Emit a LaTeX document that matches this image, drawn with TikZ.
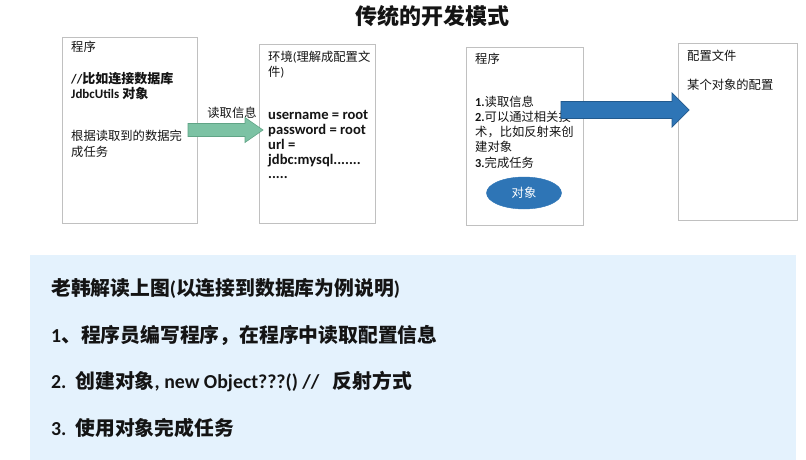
\documentclass[tikz,border=0pt]{standalone}
\usepackage{fontspec}
\usetikzlibrary{shapes.geometric}
\setmainfont{Carlito}
\newfontfamily\cjk{Noto Sans CJK SC}
\newcommand\zh[1]{{\cjk #1}}
\definecolor{boxgray}{RGB}{192,192,192}
\definecolor{panelblue}{RGB}{228,242,253}
\definecolor{greenfill}{RGB}{124,194,164}
\definecolor{greenline}{RGB}{96,164,134}
\definecolor{bluefill}{RGB}{46,117,182}
\definecolor{blueline}{RGB}{34,90,142}
\definecolor{txt}{RGB}{20,20,20}
\begin{document}
\begin{tikzpicture}[x=1pt,y=-1pt,
  box/.style={draw=boxgray, line width=0.9pt, fill=white, inner sep=0, outer sep=0, anchor=north west},
  bt/.style={anchor=west, inner sep=0, text=txt, font=\fontsize{12.3}{14}\selectfont},
  btb/.style={bt, font=\fontsize{13}{14}\selectfont\bfseries},
  btc/.style={anchor=base west, inner sep=0, text=txt, font=\fontsize{14.6}{16}\selectfont\bfseries},
  big/.style={anchor=west, inner sep=0, text=txt, font=\fontsize{19.8}{22}\selectfont\bfseries}
]
\useasboundingbox (0,0) rectangle (806,460);

% title
\node[inner sep=0, text=txt, font=\fontsize{22}{24}\selectfont\bfseries] (title) at (432,16) {\zh{传统的开发模式}};

% boxes
\node[box, minimum width=135, minimum height=186] (b1) at (62,37) {};
\node[box, minimum width=116, minimum height=179] (b2) at (259,44) {};
\node[box, minimum width=117, minimum height=178] (b3) at (466,47) {};
\node[box, minimum width=119, minimum height=177] (b4) at (678,43) {};

% box 1 text
\node[bt] (b1t1) at (71,47) {\zh{程序}};
\node[btb] (b1t2) at (71,79) {//\zh{\bfseries 比如连接数据库}};
\node[btb] (b1t3) at (71,94) {JdbcUtils \zh{\bfseries 对象}};
\node[bt] (b1t4) at (71,136) {\zh{根据读取到的数据完}};
\node[bt] (b1t5) at (71,152) {\zh{成任务}};

% box 2 text
\node[bt] (b2t1) at (268,57) {\zh{环境}(\zh{理解成配置文}};
\node[bt] (b2t2) at (268,72) {\zh{件})};
\node[btc] (b2t3) at (268,119.5) {username = root};
\node[btc] (b2t4) at (268,134.5) {password = root};
\node[btc] (b2t5) at (268,149.5) {url =};
\node[btc] (b2t6) at (268,164) {jdbc:mysql.......};
\node[btc] (b2t7) at (268,178) {.....};

% box 3 text
\node[bt] (b3t1) at (475,59) {\zh{程序}};
\node[bt] (b3t2) at (475,102) {\textbf{1.}\zh{读取信息}};
\node[bt] (b3t3) at (475,117) {\textbf{2.}\zh{可以通过相关技}};
\node[bt] (b3t4) at (475,132) {\zh{术，比如反射来创}};
\node[bt] (b3t5) at (475,147) {\zh{建对象}};
\node[bt] (b3t6) at (475,163) {\textbf{3.}\zh{完成任务}};
\node[ellipse, fill=bluefill, draw=bluefill, minimum width=75, minimum height=32, inner sep=0, text=white, font=\fontsize{12.3}{14}\selectfont] (obj) at (524,193) {\zh{对象}};

% box 4 text
\node[bt] (b4t1) at (687,56) {\zh{配置文件}};
\node[bt] (b4t2) at (687,85) {\zh{某个对象的配置}};

% green arrow
\node[inner sep=0, text=txt, font=\fontsize{12.3}{14}\selectfont] (lbl) at (232,113) {\zh{读取信息}};
\filldraw[fill=greenfill, draw=greenline, line width=0.6pt]
  (188,123.5) -- (245,123.5) -- (245,117.5) -- (263,130) -- (245,142.5) -- (245,136.5) -- (188,136.5) -- cycle;

% blue arrow
\filldraw[fill=bluefill, draw=blueline, line width=0.7pt]
  (561,101.5) -- (672,101.5) -- (672,93) -- (689,110) -- (672,127) -- (672,118.5) -- (561,118.5) -- cycle;

% panel
\fill[panelblue] (30,255) rectangle (796,460);
\node[big] (p1) at (51,288) {\zh{老韩解读上图}(\zh{以连接到数据库为例说明})};
\node[big] (p2) at (51,335) {1\zh{、程序员编写程序，在程序中读取配置信息}};
\node[big] (p3) at (51,382) {2.\ \ \zh{创建对象}, new Object???() //\ \ \ \zh{反射方式}};
\node[big] (p4) at (51,428) {3.\ \ \zh{使用对象完成任务}};
\end{tikzpicture}
\end{document}
